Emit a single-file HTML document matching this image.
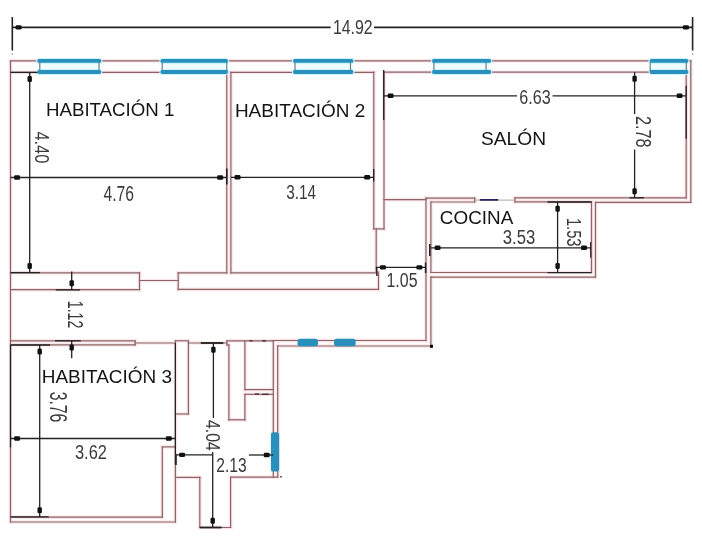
<!DOCTYPE html><html><head><meta charset="utf-8"><style>html,body{margin:0;padding:0;background:#fff;width:702px;height:553px;overflow:hidden}svg{display:block;filter:blur(0.3px)}text{font-family:"Liberation Sans",sans-serif}</style></head><body>
<svg width="702" height="553" viewBox="0 0 702 553">
<rect width="702" height="553" fill="#fff"/>
<g stroke="#fae6e9" stroke-width="3.6" stroke-linecap="square" fill="none">
<line x1="10.5" y1="60.8" x2="690.8" y2="60.8"/>
<line x1="10.5" y1="72.3" x2="226.8" y2="72.3"/>
<line x1="230.9" y1="72.3" x2="373.8" y2="72.3"/>
<line x1="383.9" y1="72.2" x2="686.2" y2="72.2"/>
<line x1="10.5" y1="60.8" x2="10.5" y2="522.0"/>
<line x1="226.8" y1="72.3" x2="226.8" y2="272.8"/>
<line x1="230.9" y1="72.3" x2="230.9" y2="272.8"/>
<line x1="373.8" y1="72.2" x2="373.8" y2="228.9"/>
<line x1="384.0" y1="72.2" x2="384.0" y2="228.9"/>
<line x1="373.8" y1="228.9" x2="384.0" y2="228.9"/>
<line x1="376.2" y1="228.9" x2="376.2" y2="272.0"/>
<line x1="686.2" y1="72.2" x2="686.2" y2="197.8"/>
<line x1="690.8" y1="60.8" x2="690.8" y2="202.3"/>
<line x1="384.0" y1="199.6" x2="426.0" y2="199.6"/>
<line x1="426.0" y1="198.2" x2="474.7" y2="198.2"/>
<line x1="430.9" y1="202.0" x2="474.7" y2="202.0"/>
<line x1="474.7" y1="198.2" x2="474.7" y2="202.0"/>
<line x1="515.0" y1="197.8" x2="515.0" y2="201.9"/>
<line x1="515.0" y1="197.8" x2="686.2" y2="197.8"/>
<line x1="515.0" y1="201.9" x2="591.5" y2="201.9"/>
<line x1="595.5" y1="202.3" x2="690.8" y2="202.3"/>
<line x1="426.0" y1="198.2" x2="426.0" y2="340.5"/>
<line x1="430.9" y1="202.0" x2="430.9" y2="272.5"/>
<line x1="430.9" y1="277.2" x2="430.9" y2="346.0"/>
<line x1="430.9" y1="272.5" x2="591.5" y2="272.5"/>
<line x1="430.9" y1="277.2" x2="595.5" y2="277.2"/>
<line x1="591.5" y1="202.0" x2="591.5" y2="272.5"/>
<line x1="595.5" y1="202.3" x2="595.5" y2="277.2"/>
<line x1="10.5" y1="272.8" x2="139.5" y2="272.8"/>
<line x1="10.5" y1="289.7" x2="139.5" y2="289.7"/>
<line x1="139.5" y1="272.8" x2="139.5" y2="289.7"/>
<line x1="139.5" y1="280.5" x2="178.2" y2="280.5"/>
<line x1="178.2" y1="272.8" x2="178.2" y2="289.7"/>
<line x1="178.2" y1="272.8" x2="226.8" y2="272.8"/>
<line x1="230.9" y1="272.8" x2="376.2" y2="272.8"/>
<line x1="178.2" y1="289.4" x2="378.5" y2="289.4"/>
<line x1="378.5" y1="272.0" x2="378.5" y2="289.4"/>
<line x1="272.6" y1="340.5" x2="426.0" y2="340.5"/>
<line x1="277.7" y1="346.0" x2="430.9" y2="346.0"/>
<line x1="10.5" y1="340.8" x2="135.1" y2="340.8"/>
<line x1="10.5" y1="344.9" x2="135.1" y2="344.9"/>
<line x1="135.1" y1="340.8" x2="135.1" y2="344.9"/>
<line x1="135.1" y1="343.0" x2="175.4" y2="343.0"/>
<line x1="188.4" y1="343.0" x2="226.9" y2="343.0"/>
<line x1="175.4" y1="340.8" x2="175.4" y2="522.0"/>
<line x1="188.4" y1="340.8" x2="188.4" y2="414.0"/>
<line x1="175.4" y1="340.8" x2="188.4" y2="340.8"/>
<line x1="175.4" y1="414.0" x2="188.4" y2="414.0"/>
<line x1="162.3" y1="446.9" x2="162.3" y2="517.2"/>
<line x1="162.3" y1="446.9" x2="175.4" y2="446.9"/>
<line x1="10.5" y1="517.2" x2="162.3" y2="517.2"/>
<line x1="10.5" y1="522.0" x2="175.4" y2="522.0"/>
<line x1="175.4" y1="477.4" x2="199.8" y2="477.4"/>
<line x1="199.8" y1="477.4" x2="199.8" y2="527.5"/>
<line x1="199.8" y1="527.5" x2="230.6" y2="527.5"/>
<line x1="230.6" y1="477.4" x2="230.6" y2="527.5"/>
<line x1="230.6" y1="477.2" x2="277.7" y2="477.2"/>
<line x1="226.9" y1="340.8" x2="273.3" y2="340.8"/>
<line x1="226.9" y1="340.8" x2="226.9" y2="345.0"/>
<line x1="226.9" y1="345.0" x2="228.9" y2="345.0"/>
<line x1="228.9" y1="345.0" x2="228.9" y2="419.8"/>
<line x1="228.9" y1="419.8" x2="244.9" y2="419.8"/>
<line x1="244.9" y1="340.8" x2="244.9" y2="389.6"/>
<line x1="244.9" y1="394.3" x2="244.9" y2="419.8"/>
<line x1="244.9" y1="389.6" x2="273.3" y2="389.6"/>
<line x1="244.9" y1="394.3" x2="273.3" y2="394.3"/>
<line x1="273.3" y1="340.8" x2="273.3" y2="477.2"/>
<line x1="277.7" y1="345.6" x2="277.7" y2="477.2"/>
<line x1="273.3" y1="340.5" x2="426.0" y2="340.5"/>
</g>
<g stroke="#8a6468" stroke-width="1.2" stroke-linecap="square" fill="none">
<line x1="10.5" y1="60.8" x2="690.8" y2="60.8"/>
<line x1="10.5" y1="72.3" x2="226.8" y2="72.3"/>
<line x1="230.9" y1="72.3" x2="373.8" y2="72.3"/>
<line x1="383.9" y1="72.2" x2="686.2" y2="72.2"/>
<line x1="10.5" y1="60.8" x2="10.5" y2="522.0"/>
<line x1="226.8" y1="72.3" x2="226.8" y2="272.8"/>
<line x1="230.9" y1="72.3" x2="230.9" y2="272.8"/>
<line x1="373.8" y1="72.2" x2="373.8" y2="228.9"/>
<line x1="384.0" y1="72.2" x2="384.0" y2="228.9"/>
<line x1="373.8" y1="228.9" x2="384.0" y2="228.9"/>
<line x1="376.2" y1="228.9" x2="376.2" y2="272.0"/>
<line x1="686.2" y1="72.2" x2="686.2" y2="197.8"/>
<line x1="690.8" y1="60.8" x2="690.8" y2="202.3"/>
<line x1="384.0" y1="199.6" x2="426.0" y2="199.6"/>
<line x1="426.0" y1="198.2" x2="474.7" y2="198.2"/>
<line x1="430.9" y1="202.0" x2="474.7" y2="202.0"/>
<line x1="474.7" y1="198.2" x2="474.7" y2="202.0"/>
<line x1="515.0" y1="197.8" x2="515.0" y2="201.9"/>
<line x1="515.0" y1="197.8" x2="686.2" y2="197.8"/>
<line x1="515.0" y1="201.9" x2="591.5" y2="201.9"/>
<line x1="595.5" y1="202.3" x2="690.8" y2="202.3"/>
<line x1="426.0" y1="198.2" x2="426.0" y2="340.5"/>
<line x1="430.9" y1="202.0" x2="430.9" y2="272.5"/>
<line x1="430.9" y1="277.2" x2="430.9" y2="346.0"/>
<line x1="430.9" y1="272.5" x2="591.5" y2="272.5"/>
<line x1="430.9" y1="277.2" x2="595.5" y2="277.2"/>
<line x1="591.5" y1="202.0" x2="591.5" y2="272.5"/>
<line x1="595.5" y1="202.3" x2="595.5" y2="277.2"/>
<line x1="10.5" y1="272.8" x2="139.5" y2="272.8"/>
<line x1="10.5" y1="289.7" x2="139.5" y2="289.7"/>
<line x1="139.5" y1="272.8" x2="139.5" y2="289.7"/>
<line x1="139.5" y1="280.5" x2="178.2" y2="280.5"/>
<line x1="178.2" y1="272.8" x2="178.2" y2="289.7"/>
<line x1="178.2" y1="272.8" x2="226.8" y2="272.8"/>
<line x1="230.9" y1="272.8" x2="376.2" y2="272.8"/>
<line x1="178.2" y1="289.4" x2="378.5" y2="289.4"/>
<line x1="378.5" y1="272.0" x2="378.5" y2="289.4"/>
<line x1="272.6" y1="340.5" x2="426.0" y2="340.5"/>
<line x1="277.7" y1="346.0" x2="430.9" y2="346.0"/>
<line x1="10.5" y1="340.8" x2="135.1" y2="340.8"/>
<line x1="10.5" y1="344.9" x2="135.1" y2="344.9"/>
<line x1="135.1" y1="340.8" x2="135.1" y2="344.9"/>
<line x1="135.1" y1="343.0" x2="175.4" y2="343.0"/>
<line x1="188.4" y1="343.0" x2="226.9" y2="343.0"/>
<line x1="175.4" y1="340.8" x2="175.4" y2="522.0"/>
<line x1="188.4" y1="340.8" x2="188.4" y2="414.0"/>
<line x1="175.4" y1="340.8" x2="188.4" y2="340.8"/>
<line x1="175.4" y1="414.0" x2="188.4" y2="414.0"/>
<line x1="162.3" y1="446.9" x2="162.3" y2="517.2"/>
<line x1="162.3" y1="446.9" x2="175.4" y2="446.9"/>
<line x1="10.5" y1="517.2" x2="162.3" y2="517.2"/>
<line x1="10.5" y1="522.0" x2="175.4" y2="522.0"/>
<line x1="175.4" y1="477.4" x2="199.8" y2="477.4"/>
<line x1="199.8" y1="477.4" x2="199.8" y2="527.5"/>
<line x1="199.8" y1="527.5" x2="230.6" y2="527.5"/>
<line x1="230.6" y1="477.4" x2="230.6" y2="527.5"/>
<line x1="230.6" y1="477.2" x2="277.7" y2="477.2"/>
<line x1="226.9" y1="340.8" x2="273.3" y2="340.8"/>
<line x1="226.9" y1="340.8" x2="226.9" y2="345.0"/>
<line x1="226.9" y1="345.0" x2="228.9" y2="345.0"/>
<line x1="228.9" y1="345.0" x2="228.9" y2="419.8"/>
<line x1="228.9" y1="419.8" x2="244.9" y2="419.8"/>
<line x1="244.9" y1="340.8" x2="244.9" y2="389.6"/>
<line x1="244.9" y1="394.3" x2="244.9" y2="419.8"/>
<line x1="244.9" y1="389.6" x2="273.3" y2="389.6"/>
<line x1="244.9" y1="394.3" x2="273.3" y2="394.3"/>
<line x1="273.3" y1="340.8" x2="273.3" y2="477.2"/>
<line x1="277.7" y1="345.6" x2="277.7" y2="477.2"/>
<line x1="273.3" y1="340.5" x2="426.0" y2="340.5"/>
</g>
<rect x="37.6" y="61" width="63.3" height="11" fill="#effdff"/>
<line x1="39.1" y1="60.9" x2="99.4" y2="60.9" stroke="#c9f3ff" stroke-width="6" stroke-linecap="round"/>
<line x1="39.1" y1="72.0" x2="99.4" y2="72.0" stroke="#c9f3ff" stroke-width="6" stroke-linecap="round"/>
<line x1="39.8" y1="62" x2="39.8" y2="71" stroke="#6a8088" stroke-width="1.2"/>
<line x1="99.0" y1="62" x2="99.0" y2="71" stroke="#6a8088" stroke-width="1.2"/>
<line x1="39.1" y1="60.9" x2="99.4" y2="60.9" stroke="#2990bb" stroke-width="3.8" stroke-linecap="round"/>
<line x1="39.1" y1="72.0" x2="99.4" y2="72.0" stroke="#2990bb" stroke-width="3.8" stroke-linecap="round"/>
<rect x="160.8" y="61" width="66.8" height="11" fill="#effdff"/>
<line x1="162.3" y1="60.9" x2="226.1" y2="60.9" stroke="#c9f3ff" stroke-width="6" stroke-linecap="round"/>
<line x1="162.3" y1="72.0" x2="226.1" y2="72.0" stroke="#c9f3ff" stroke-width="6" stroke-linecap="round"/>
<line x1="162.2" y1="62" x2="162.2" y2="71" stroke="#6a8088" stroke-width="1.2"/>
<line x1="226.8" y1="62" x2="226.8" y2="71" stroke="#6a8088" stroke-width="1.2"/>
<line x1="162.3" y1="60.9" x2="226.1" y2="60.9" stroke="#2990bb" stroke-width="3.8" stroke-linecap="round"/>
<line x1="162.3" y1="72.0" x2="226.1" y2="72.0" stroke="#2990bb" stroke-width="3.8" stroke-linecap="round"/>
<rect x="293.4" y="61" width="59.6" height="11" fill="#effdff"/>
<line x1="294.9" y1="60.9" x2="351.5" y2="60.9" stroke="#c9f3ff" stroke-width="6" stroke-linecap="round"/>
<line x1="294.9" y1="72.0" x2="351.5" y2="72.0" stroke="#c9f3ff" stroke-width="6" stroke-linecap="round"/>
<line x1="295.0" y1="62" x2="295.0" y2="71" stroke="#6a8088" stroke-width="1.2"/>
<line x1="350.5" y1="62" x2="350.5" y2="71" stroke="#6a8088" stroke-width="1.2"/>
<line x1="294.9" y1="60.9" x2="351.5" y2="60.9" stroke="#2990bb" stroke-width="3.8" stroke-linecap="round"/>
<line x1="294.9" y1="72.0" x2="351.5" y2="72.0" stroke="#2990bb" stroke-width="3.8" stroke-linecap="round"/>
<rect x="432.4" y="61" width="58.4" height="11" fill="#effdff"/>
<line x1="433.9" y1="60.9" x2="489.3" y2="60.9" stroke="#c9f3ff" stroke-width="6" stroke-linecap="round"/>
<line x1="433.9" y1="72.0" x2="489.3" y2="72.0" stroke="#c9f3ff" stroke-width="6" stroke-linecap="round"/>
<line x1="433.9" y1="62" x2="433.9" y2="71" stroke="#6a8088" stroke-width="1.2"/>
<line x1="486.1" y1="62" x2="486.1" y2="71" stroke="#6a8088" stroke-width="1.2"/>
<line x1="433.9" y1="60.9" x2="489.3" y2="60.9" stroke="#2990bb" stroke-width="3.8" stroke-linecap="round"/>
<line x1="433.9" y1="72.0" x2="489.3" y2="72.0" stroke="#2990bb" stroke-width="3.8" stroke-linecap="round"/>
<rect x="650.0" y="61" width="38.0" height="11" fill="#effdff"/>
<line x1="651.5" y1="60.9" x2="686.5" y2="60.9" stroke="#c9f3ff" stroke-width="6" stroke-linecap="round"/>
<line x1="651.5" y1="72.0" x2="686.5" y2="72.0" stroke="#c9f3ff" stroke-width="6" stroke-linecap="round"/>
<line x1="650.2" y1="62" x2="650.2" y2="71" stroke="#6a8088" stroke-width="1.2"/>
<line x1="686.3" y1="62" x2="686.3" y2="71" stroke="#6a8088" stroke-width="1.2"/>
<line x1="651.5" y1="60.9" x2="686.5" y2="60.9" stroke="#2990bb" stroke-width="3.8" stroke-linecap="round"/>
<line x1="651.5" y1="72.0" x2="686.5" y2="72.0" stroke="#2990bb" stroke-width="3.8" stroke-linecap="round"/>
<rect x="297.5" y="338.8" width="20.5" height="7.4" rx="2.6" fill="#2990bb"/>
<rect x="334.0" y="338.8" width="21.7" height="7.4" rx="2.6" fill="#2990bb"/>
<rect x="270.9" y="432.3" width="8.3" height="39.2" rx="2.6" fill="#2990bb"/>
<line x1="474.7" y1="200.1" x2="515" y2="200.1" stroke="#a89a9a" stroke-width="0.9"/>
<line x1="480.5" y1="199.8" x2="497.5" y2="199.8" stroke="#2a2060" stroke-width="1.8" stroke-linecap="round"/>
<g stroke="#222" fill="none">
<line x1="12.3" y1="17.0" x2="12.3" y2="50.5" stroke-width="1.6"/>
<line x1="692.6" y1="17.0" x2="692.6" y2="50.5" stroke-width="1.6"/>
<line x1="12.3" y1="27.4" x2="330.6" y2="27.4" stroke-width="1.6"/>
<line x1="374.0" y1="27.4" x2="692.6" y2="27.4" stroke-width="1.6"/>
<line x1="29.7" y1="72.3" x2="29.7" y2="272.6" stroke-width="1.3"/>
<line x1="10.5" y1="72.4" x2="37.6" y2="72.4" stroke-width="1.3"/>
<line x1="10.5" y1="272.6" x2="39.9" y2="272.6" stroke-width="1.3"/>
<line x1="10.5" y1="177.5" x2="226.8" y2="177.5" stroke-width="1.3"/>
<line x1="226.8" y1="168.6" x2="226.8" y2="184.5" stroke-width="1.6"/>
<line x1="230.9" y1="177.3" x2="373.8" y2="177.3" stroke-width="1.3"/>
<line x1="373.7" y1="169.0" x2="373.7" y2="181.5" stroke-width="1.3"/>
<line x1="383.9" y1="95.8" x2="517.0" y2="95.8" stroke-width="1.3"/>
<line x1="552.6" y1="95.8" x2="686.2" y2="95.8" stroke-width="1.3"/>
<line x1="383.7" y1="70.0" x2="383.7" y2="120.0" stroke-width="1.3"/>
<line x1="686.2" y1="85.8" x2="686.2" y2="138.7" stroke-width="1.3"/>
<line x1="634.6" y1="72.2" x2="634.6" y2="114.0" stroke-width="1.3"/>
<line x1="634.6" y1="149.5" x2="634.6" y2="197.8" stroke-width="1.3"/>
<line x1="629.5" y1="197.8" x2="643.9" y2="197.8" stroke-width="1.3"/>
<line x1="71.7" y1="271.4" x2="71.7" y2="289.9" stroke-width="1.3"/>
<line x1="55.8" y1="289.9" x2="80.0" y2="289.9" stroke-width="1.3"/>
<line x1="71.7" y1="340.8" x2="71.7" y2="358.2" stroke-width="1.3"/>
<line x1="55.0" y1="340.8" x2="80.8" y2="340.8" stroke-width="1.3"/>
<line x1="39.7" y1="344.9" x2="39.7" y2="516.9" stroke-width="1.3"/>
<line x1="10.5" y1="345.0" x2="50.0" y2="345.0" stroke-width="1.3"/>
<line x1="10.5" y1="516.9" x2="48.7" y2="516.9" stroke-width="1.3"/>
<line x1="10.5" y1="345.0" x2="10.5" y2="447.4" stroke-width="1.3"/>
<line x1="10.5" y1="438.5" x2="175.4" y2="438.5" stroke-width="1.3"/>
<line x1="175.4" y1="343.0" x2="175.4" y2="464.0" stroke-width="1.2"/>
<line x1="175.4" y1="454.9" x2="212.7" y2="454.9" stroke-width="1.3"/>
<line x1="248.9" y1="455.0" x2="273.3" y2="455.0" stroke-width="1.3"/>
<line x1="175.9" y1="454.0" x2="175.9" y2="465.0" stroke-width="1.8"/>
<line x1="213.4" y1="343.0" x2="213.4" y2="418.0" stroke-width="1.3"/>
<line x1="212.7" y1="452.0" x2="212.7" y2="527.5" stroke-width="1.3"/>
<line x1="200.8" y1="343.0" x2="223.3" y2="343.0" stroke-width="1.8"/>
<line x1="199.8" y1="527.5" x2="221.6" y2="527.5" stroke-width="1.8"/>
<line x1="376.6" y1="267.0" x2="376.9" y2="276.0" stroke-width="1.5"/>
<line x1="425.6" y1="262.5" x2="425.6" y2="273.0" stroke-width="1.5"/>
<line x1="376.2" y1="267.4" x2="426.0" y2="267.4" stroke-width="1.3"/>
<line x1="430.9" y1="247.8" x2="590.6" y2="247.8" stroke-width="1.3"/>
<line x1="429.8" y1="244.0" x2="429.8" y2="256.0" stroke-width="1.6"/>
<line x1="590.6" y1="242.0" x2="590.6" y2="257.7" stroke-width="1.0"/>
<line x1="557.6" y1="202.0" x2="557.6" y2="272.6" stroke-width="1.3"/>
<line x1="547.5" y1="202.0" x2="591.5" y2="202.0" stroke-width="1.3"/>
<line x1="547.5" y1="272.6" x2="591.5" y2="272.6" stroke-width="1.3"/>
</g>
<g fill="#111">
<rect x="15.6" y="25.2" width="6.0" height="4.4" rx="1.3"/>
<rect x="682.9" y="25.2" width="6.0" height="4.4" rx="1.3"/>
<rect x="27.5" y="76.1" width="4.4" height="6.0" rx="1.3"/>
<rect x="27.5" y="263.0" width="4.4" height="6.0" rx="1.3"/>
<rect x="14.1" y="175.3" width="6.0" height="4.4" rx="1.3"/>
<rect x="217.2" y="175.3" width="6.0" height="4.4" rx="1.3"/>
<rect x="234.5" y="175.1" width="6.0" height="4.4" rx="1.3"/>
<rect x="364.2" y="175.1" width="6.0" height="4.4" rx="1.3"/>
<rect x="387.6" y="93.6" width="6.0" height="4.4" rx="1.3"/>
<rect x="676.6" y="93.6" width="6.0" height="4.4" rx="1.3"/>
<rect x="632.4" y="75.8" width="4.4" height="6.0" rx="1.3"/>
<rect x="632.4" y="188.2" width="4.4" height="6.0" rx="1.3"/>
<rect x="69.5" y="280.2" width="4.4" height="6.0" rx="1.3"/>
<rect x="69.5" y="344.6" width="4.4" height="6.0" rx="1.3"/>
<rect x="37.5" y="348.6" width="4.4" height="6.0" rx="1.3"/>
<rect x="37.5" y="507.2" width="4.4" height="6.0" rx="1.3"/>
<rect x="14.1" y="436.3" width="6.0" height="4.4" rx="1.3"/>
<rect x="165.8" y="436.3" width="6.0" height="4.4" rx="1.3"/>
<rect x="179.1" y="452.7" width="6.0" height="4.4" rx="1.3"/>
<rect x="263.7" y="452.8" width="6.0" height="4.4" rx="1.3"/>
<rect x="211.2" y="346.8" width="4.4" height="6.0" rx="1.3"/>
<rect x="210.5" y="517.8" width="4.4" height="6.0" rx="1.3"/>
<rect x="379.9" y="265.2" width="6.0" height="4.4" rx="1.3"/>
<rect x="416.4" y="265.2" width="6.0" height="4.4" rx="1.3"/>
<rect x="434.6" y="245.6" width="6.0" height="4.4" rx="1.3"/>
<rect x="581.0" y="245.6" width="6.0" height="4.4" rx="1.3"/>
<rect x="555.4" y="205.7" width="4.4" height="6.0" rx="1.3"/>
<rect x="555.4" y="262.9" width="4.4" height="6.0" rx="1.3"/>
</g>
<line x1="249.5" y1="340.8" x2="252.5" y2="340.8" stroke="#333" stroke-width="1.3"/>
<line x1="262.0" y1="340.8" x2="266.0" y2="340.8" stroke="#333" stroke-width="1.3"/>
<line x1="254.8" y1="394.0" x2="259.0" y2="394.0" stroke="#333" stroke-width="1.3"/>
<line x1="262.0" y1="394.3" x2="268.8" y2="394.3" stroke="#333" stroke-width="1.3"/>
<rect x="11.7" y="53.5" width="1.2" height="1.2" fill="#777"/>
<rect x="692.0" y="53.5" width="1.2" height="1.2" fill="#777"/>
<rect x="280.2" y="476" width="1.5" height="1.5" fill="#333"/>
<rect x="430" y="344.8" width="3" height="3" fill="#000"/>
<text transform="translate(46.00 116.22) scale(1.0160 1)" font-size="18.40" fill="#141414">HABITACIÓN 1</text>
<text transform="translate(234.88 117.22) scale(1.0329 1)" font-size="18.40" fill="#141414">HABITACIÓN 2</text>
<text transform="translate(41.68 383.32) scale(1.0322 1)" font-size="18.40" fill="#141414">HABITACIÓN 3</text>
<text transform="translate(480.94 144.62) scale(1.0437 1)" font-size="18.40" fill="#141414">SALÓN</text>
<text transform="translate(439.86 223.92) scale(1.0260 1)" font-size="18.40" fill="#141414">COCINA</text>
<text transform="translate(332.91 34.39) scale(0.7719 1)" font-size="20.56" fill="#3a3a3a">14.92</text>
<text transform="translate(103.51 200.68) scale(0.7046 1)" font-size="22.25" fill="#3a3a3a">4.76</text>
<text transform="translate(286.29 198.59) scale(0.7245 1)" font-size="21.13" fill="#3a3a3a">3.14</text>
<text transform="translate(519.19 103.69) scale(0.7650 1)" font-size="21.13" fill="#3a3a3a">6.63</text>
<text transform="translate(502.73 243.69) scale(0.8131 1)" font-size="20.56" fill="#3a3a3a">3.53</text>
<text transform="translate(386.50 286.69) scale(0.7707 1)" font-size="20.70" fill="#3a3a3a">1.05</text>
<text transform="translate(74.94 458.69) scale(0.7941 1)" font-size="20.70" fill="#3a3a3a">3.62</text>
<text transform="translate(216.22 472.29) scale(0.7545 1)" font-size="20.70" fill="#3a3a3a">2.13</text>
<text transform="translate(35.11 131.49) rotate(90) scale(0.7781 1)" font-size="20.99" fill="#3a3a3a">4.40</text>
<text transform="translate(67.81 300.85) rotate(90) scale(0.6570 1)" font-size="21.41" fill="#3a3a3a">1.12</text>
<text transform="translate(49.93 391.67) rotate(90) scale(0.6820 1)" font-size="23.10" fill="#3a3a3a">3.76</text>
<text transform="translate(635.62 115.99) rotate(90) scale(0.7316 1)" font-size="22.25" fill="#3a3a3a">2.78</text>
<text transform="translate(567.01 217.90) rotate(90) scale(0.6951 1)" font-size="21.13" fill="#3a3a3a">1.53</text>
<text transform="translate(205.90 420.01) rotate(90) scale(0.7884 1)" font-size="20.00" fill="#3a3a3a">4.04</text>
</svg></body></html>
